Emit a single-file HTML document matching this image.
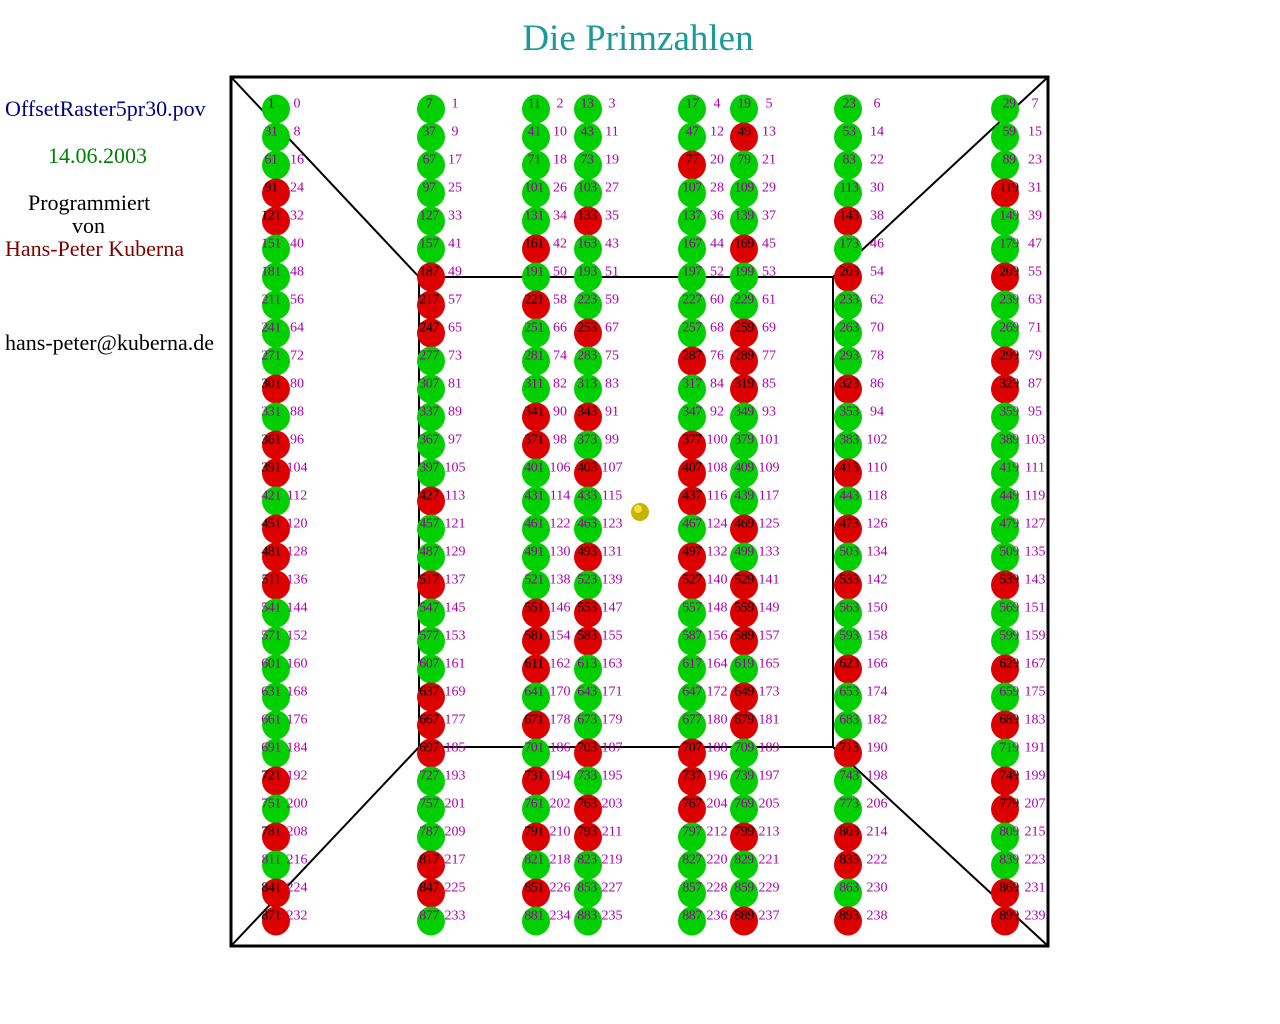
<!DOCTYPE html>
<html><head><meta charset="utf-8"><style>
body{margin:0;background:#fff;width:1280px;height:1024px;overflow:hidden}
svg{display:block}
text{font-family:"Liberation Serif",serif}
ellipse{rx:14px;ry:14.5px}
.g{fill:#00d000}.r{fill:#dd0000}
.n{font-size:14px;text-anchor:middle;dominant-baseline:central;fill:#990099;letter-spacing:-0.5px}
.k{font-size:14px;text-anchor:middle;dominant-baseline:central;fill:#000;letter-spacing:-0.5px}
.i{font-size:14px;text-anchor:middle;dominant-baseline:central;fill:#aa00aa}
</style></head><body>
<svg width="1280" height="1024" xmlns="http://www.w3.org/2000/svg">
<text x="638" y="50" font-size="37" fill="#1a9a9a" text-anchor="middle">Die Primzahlen</text>
<text x="5" y="116" font-size="22" fill="#000080">OffsetRaster5pr30.pov</text>
<text x="48" y="163" font-size="22" fill="#008000">14.06.2003</text>
<text x="28" y="210" font-size="22" fill="#000">Programmiert</text>
<text x="72" y="233" font-size="22" fill="#000">von</text>
<text x="5" y="256" font-size="22" fill="#800000">Hans-Peter Kuberna</text>
<text x="5" y="350" font-size="22" fill="#000">hans-peter@kuberna.de</text>
<g stroke="#000" fill="none">
<rect x="231" y="77" width="817" height="869" stroke-width="3"/>
<rect x="419" y="277" width="414" height="470" stroke-width="2"/>
<line x1="231" y1="77" x2="419" y2="277" stroke-width="2"/>
<line x1="1048" y1="77" x2="833" y2="277" stroke-width="2"/>
<line x1="231" y1="946" x2="419" y2="747" stroke-width="2"/>
<line x1="1048" y1="946" x2="833" y2="747" stroke-width="2"/>
</g>
<circle cx="640" cy="512" r="9" fill="#c8b400"/>
<circle cx="638" cy="509" r="4" fill="#f0e040"/>
<g id="grid">
<g transform="translate(0,104)">
<ellipse cx="276" cy="5" rx="13" ry="15" class="g"/><text x="271" class="k">1</text><text x="297" class="i">0</text>
<ellipse cx="431" cy="5" rx="13" ry="15" class="g"/><text x="429" class="n">7</text><text x="455" class="i">1</text>
<ellipse cx="536" cy="5" rx="13" ry="15" class="g"/><text x="534" class="n">11</text><text x="560" class="i">2</text>
<ellipse cx="588" cy="5" rx="13" ry="15" class="g"/><text x="587" class="n">13</text><text x="612" class="i">3</text>
<ellipse cx="692" cy="5" rx="13" ry="15" class="g"/><text x="692" class="n">17</text><text x="717" class="i">4</text>
<ellipse cx="744" cy="5" rx="13" ry="15" class="g"/><text x="744" class="n">19</text><text x="769" class="i">5</text>
<ellipse cx="848" cy="5" rx="13" ry="15" class="g"/><text x="849" class="n">23</text><text x="877" class="i">6</text>
<ellipse cx="1005" cy="5" rx="13" ry="15" class="g"/><text x="1009" class="n">29</text><text x="1035" class="i">7</text>
</g>
<g transform="translate(0,132)">
<ellipse cx="276" cy="5" rx="13" ry="15" class="g"/><text x="271" class="n">31</text><text x="297" class="i">8</text>
<ellipse cx="431" cy="5" rx="13" ry="15" class="g"/><text x="429" class="n">37</text><text x="455" class="i">9</text>
<ellipse cx="536" cy="5" rx="13" ry="15" class="g"/><text x="534" class="n">41</text><text x="560" class="i">10</text>
<ellipse cx="588" cy="5" rx="13" ry="15" class="g"/><text x="587" class="n">43</text><text x="612" class="i">11</text>
<ellipse cx="692" cy="5" rx="13" ry="15" class="g"/><text x="692" class="n">47</text><text x="717" class="i">12</text>
<ellipse cx="744" cy="5" rx="13" ry="15" class="r"/><text x="744" class="k">49</text><text x="769" class="i">13</text>
<ellipse cx="848" cy="5" rx="13" ry="15" class="g"/><text x="849" class="n">53</text><text x="877" class="i">14</text>
<ellipse cx="1005" cy="5" rx="13" ry="15" class="g"/><text x="1009" class="n">59</text><text x="1035" class="i">15</text>
</g>
<g transform="translate(0,160)">
<ellipse cx="276" cy="5" rx="13" ry="15" class="g"/><text x="271" class="n">61</text><text x="297" class="i">16</text>
<ellipse cx="431" cy="5" rx="13" ry="15" class="g"/><text x="429" class="n">67</text><text x="455" class="i">17</text>
<ellipse cx="536" cy="5" rx="13" ry="15" class="g"/><text x="534" class="n">71</text><text x="560" class="i">18</text>
<ellipse cx="588" cy="5" rx="13" ry="15" class="g"/><text x="587" class="n">73</text><text x="612" class="i">19</text>
<ellipse cx="692" cy="5" rx="13" ry="15" class="r"/><text x="692" class="k">77</text><text x="717" class="i">20</text>
<ellipse cx="744" cy="5" rx="13" ry="15" class="g"/><text x="744" class="n">79</text><text x="769" class="i">21</text>
<ellipse cx="848" cy="5" rx="13" ry="15" class="g"/><text x="849" class="n">83</text><text x="877" class="i">22</text>
<ellipse cx="1005" cy="5" rx="13" ry="15" class="g"/><text x="1009" class="n">89</text><text x="1035" class="i">23</text>
</g>
<g transform="translate(0,188)">
<ellipse cx="276" cy="5" rx="13" ry="15" class="r"/><text x="271" class="k">91</text><text x="297" class="i">24</text>
<ellipse cx="431" cy="5" rx="13" ry="15" class="g"/><text x="429" class="n">97</text><text x="455" class="i">25</text>
<ellipse cx="536" cy="5" rx="13" ry="15" class="g"/><text x="534" class="n">101</text><text x="560" class="i">26</text>
<ellipse cx="588" cy="5" rx="13" ry="15" class="g"/><text x="587" class="n">103</text><text x="612" class="i">27</text>
<ellipse cx="692" cy="5" rx="13" ry="15" class="g"/><text x="692" class="n">107</text><text x="717" class="i">28</text>
<ellipse cx="744" cy="5" rx="13" ry="15" class="g"/><text x="744" class="n">109</text><text x="769" class="i">29</text>
<ellipse cx="848" cy="5" rx="13" ry="15" class="g"/><text x="849" class="n">113</text><text x="877" class="i">30</text>
<ellipse cx="1005" cy="5" rx="13" ry="15" class="r"/><text x="1009" class="k">119</text><text x="1035" class="i">31</text>
</g>
<g transform="translate(0,216)">
<ellipse cx="276" cy="5" rx="13" ry="15" class="r"/><text x="271" class="k">121</text><text x="297" class="i">32</text>
<ellipse cx="431" cy="5" rx="13" ry="15" class="g"/><text x="429" class="n">127</text><text x="455" class="i">33</text>
<ellipse cx="536" cy="5" rx="13" ry="15" class="g"/><text x="534" class="n">131</text><text x="560" class="i">34</text>
<ellipse cx="588" cy="5" rx="13" ry="15" class="r"/><text x="587" class="k">133</text><text x="612" class="i">35</text>
<ellipse cx="692" cy="5" rx="13" ry="15" class="g"/><text x="692" class="n">137</text><text x="717" class="i">36</text>
<ellipse cx="744" cy="5" rx="13" ry="15" class="g"/><text x="744" class="n">139</text><text x="769" class="i">37</text>
<ellipse cx="848" cy="5" rx="13" ry="15" class="r"/><text x="849" class="k">143</text><text x="877" class="i">38</text>
<ellipse cx="1005" cy="5" rx="13" ry="15" class="g"/><text x="1009" class="n">149</text><text x="1035" class="i">39</text>
</g>
<g transform="translate(0,244)">
<ellipse cx="276" cy="5" rx="13" ry="15" class="g"/><text x="271" class="n">151</text><text x="297" class="i">40</text>
<ellipse cx="431" cy="5" rx="13" ry="15" class="g"/><text x="429" class="n">157</text><text x="455" class="i">41</text>
<ellipse cx="536" cy="5" rx="13" ry="15" class="r"/><text x="534" class="k">161</text><text x="560" class="i">42</text>
<ellipse cx="588" cy="5" rx="13" ry="15" class="g"/><text x="587" class="n">163</text><text x="612" class="i">43</text>
<ellipse cx="692" cy="5" rx="13" ry="15" class="g"/><text x="692" class="n">167</text><text x="717" class="i">44</text>
<ellipse cx="744" cy="5" rx="13" ry="15" class="r"/><text x="744" class="k">169</text><text x="769" class="i">45</text>
<ellipse cx="848" cy="5" rx="13" ry="15" class="g"/><text x="849" class="n">173</text><text x="877" class="i">46</text>
<ellipse cx="1005" cy="5" rx="13" ry="15" class="g"/><text x="1009" class="n">179</text><text x="1035" class="i">47</text>
</g>
<g transform="translate(0,272)">
<ellipse cx="276" cy="5" rx="13" ry="15" class="g"/><text x="271" class="n">181</text><text x="297" class="i">48</text>
<ellipse cx="431" cy="5" rx="13" ry="15" class="r"/><text x="429" class="k">187</text><text x="455" class="i">49</text>
<ellipse cx="536" cy="5" rx="13" ry="15" class="g"/><text x="534" class="n">191</text><text x="560" class="i">50</text>
<ellipse cx="588" cy="5" rx="13" ry="15" class="g"/><text x="587" class="n">193</text><text x="612" class="i">51</text>
<ellipse cx="692" cy="5" rx="13" ry="15" class="g"/><text x="692" class="n">197</text><text x="717" class="i">52</text>
<ellipse cx="744" cy="5" rx="13" ry="15" class="g"/><text x="744" class="n">199</text><text x="769" class="i">53</text>
<ellipse cx="848" cy="5" rx="13" ry="15" class="r"/><text x="849" class="k">203</text><text x="877" class="i">54</text>
<ellipse cx="1005" cy="5" rx="13" ry="15" class="r"/><text x="1009" class="k">209</text><text x="1035" class="i">55</text>
</g>
<g transform="translate(0,300)">
<ellipse cx="276" cy="5" rx="13" ry="15" class="g"/><text x="271" class="n">211</text><text x="297" class="i">56</text>
<ellipse cx="431" cy="5" rx="13" ry="15" class="r"/><text x="429" class="k">217</text><text x="455" class="i">57</text>
<ellipse cx="536" cy="5" rx="13" ry="15" class="r"/><text x="534" class="k">221</text><text x="560" class="i">58</text>
<ellipse cx="588" cy="5" rx="13" ry="15" class="g"/><text x="587" class="n">223</text><text x="612" class="i">59</text>
<ellipse cx="692" cy="5" rx="13" ry="15" class="g"/><text x="692" class="n">227</text><text x="717" class="i">60</text>
<ellipse cx="744" cy="5" rx="13" ry="15" class="g"/><text x="744" class="n">229</text><text x="769" class="i">61</text>
<ellipse cx="848" cy="5" rx="13" ry="15" class="g"/><text x="849" class="n">233</text><text x="877" class="i">62</text>
<ellipse cx="1005" cy="5" rx="13" ry="15" class="g"/><text x="1009" class="n">239</text><text x="1035" class="i">63</text>
</g>
<g transform="translate(0,328)">
<ellipse cx="276" cy="5" rx="13" ry="15" class="g"/><text x="271" class="n">241</text><text x="297" class="i">64</text>
<ellipse cx="431" cy="5" rx="13" ry="15" class="r"/><text x="429" class="k">247</text><text x="455" class="i">65</text>
<ellipse cx="536" cy="5" rx="13" ry="15" class="g"/><text x="534" class="n">251</text><text x="560" class="i">66</text>
<ellipse cx="588" cy="5" rx="13" ry="15" class="r"/><text x="587" class="k">253</text><text x="612" class="i">67</text>
<ellipse cx="692" cy="5" rx="13" ry="15" class="g"/><text x="692" class="n">257</text><text x="717" class="i">68</text>
<ellipse cx="744" cy="5" rx="13" ry="15" class="r"/><text x="744" class="k">259</text><text x="769" class="i">69</text>
<ellipse cx="848" cy="5" rx="13" ry="15" class="g"/><text x="849" class="n">263</text><text x="877" class="i">70</text>
<ellipse cx="1005" cy="5" rx="13" ry="15" class="g"/><text x="1009" class="n">269</text><text x="1035" class="i">71</text>
</g>
<g transform="translate(0,356)">
<ellipse cx="276" cy="5" rx="13" ry="15" class="g"/><text x="271" class="n">271</text><text x="297" class="i">72</text>
<ellipse cx="431" cy="5" rx="13" ry="15" class="g"/><text x="429" class="n">277</text><text x="455" class="i">73</text>
<ellipse cx="536" cy="5" rx="13" ry="15" class="g"/><text x="534" class="n">281</text><text x="560" class="i">74</text>
<ellipse cx="588" cy="5" rx="13" ry="15" class="g"/><text x="587" class="n">283</text><text x="612" class="i">75</text>
<ellipse cx="692" cy="5" rx="13" ry="15" class="r"/><text x="692" class="k">287</text><text x="717" class="i">76</text>
<ellipse cx="744" cy="5" rx="13" ry="15" class="r"/><text x="744" class="k">289</text><text x="769" class="i">77</text>
<ellipse cx="848" cy="5" rx="13" ry="15" class="g"/><text x="849" class="n">293</text><text x="877" class="i">78</text>
<ellipse cx="1005" cy="5" rx="13" ry="15" class="r"/><text x="1009" class="k">299</text><text x="1035" class="i">79</text>
</g>
<g transform="translate(0,384)">
<ellipse cx="276" cy="5" rx="13" ry="15" class="r"/><text x="271" class="k">301</text><text x="297" class="i">80</text>
<ellipse cx="431" cy="5" rx="13" ry="15" class="g"/><text x="429" class="n">307</text><text x="455" class="i">81</text>
<ellipse cx="536" cy="5" rx="13" ry="15" class="g"/><text x="534" class="n">311</text><text x="560" class="i">82</text>
<ellipse cx="588" cy="5" rx="13" ry="15" class="g"/><text x="587" class="n">313</text><text x="612" class="i">83</text>
<ellipse cx="692" cy="5" rx="13" ry="15" class="g"/><text x="692" class="n">317</text><text x="717" class="i">84</text>
<ellipse cx="744" cy="5" rx="13" ry="15" class="r"/><text x="744" class="k">319</text><text x="769" class="i">85</text>
<ellipse cx="848" cy="5" rx="13" ry="15" class="r"/><text x="849" class="k">323</text><text x="877" class="i">86</text>
<ellipse cx="1005" cy="5" rx="13" ry="15" class="r"/><text x="1009" class="k">329</text><text x="1035" class="i">87</text>
</g>
<g transform="translate(0,412)">
<ellipse cx="276" cy="5" rx="13" ry="15" class="g"/><text x="271" class="n">331</text><text x="297" class="i">88</text>
<ellipse cx="431" cy="5" rx="13" ry="15" class="g"/><text x="429" class="n">337</text><text x="455" class="i">89</text>
<ellipse cx="536" cy="5" rx="13" ry="15" class="r"/><text x="534" class="k">341</text><text x="560" class="i">90</text>
<ellipse cx="588" cy="5" rx="13" ry="15" class="r"/><text x="587" class="k">343</text><text x="612" class="i">91</text>
<ellipse cx="692" cy="5" rx="13" ry="15" class="g"/><text x="692" class="n">347</text><text x="717" class="i">92</text>
<ellipse cx="744" cy="5" rx="13" ry="15" class="g"/><text x="744" class="n">349</text><text x="769" class="i">93</text>
<ellipse cx="848" cy="5" rx="13" ry="15" class="g"/><text x="849" class="n">353</text><text x="877" class="i">94</text>
<ellipse cx="1005" cy="5" rx="13" ry="15" class="g"/><text x="1009" class="n">359</text><text x="1035" class="i">95</text>
</g>
<g transform="translate(0,440)">
<ellipse cx="276" cy="5" rx="13" ry="15" class="r"/><text x="271" class="k">361</text><text x="297" class="i">96</text>
<ellipse cx="431" cy="5" rx="13" ry="15" class="g"/><text x="429" class="n">367</text><text x="455" class="i">97</text>
<ellipse cx="536" cy="5" rx="13" ry="15" class="r"/><text x="534" class="k">371</text><text x="560" class="i">98</text>
<ellipse cx="588" cy="5" rx="13" ry="15" class="g"/><text x="587" class="n">373</text><text x="612" class="i">99</text>
<ellipse cx="692" cy="5" rx="13" ry="15" class="r"/><text x="692" class="k">377</text><text x="717" class="i">100</text>
<ellipse cx="744" cy="5" rx="13" ry="15" class="g"/><text x="744" class="n">379</text><text x="769" class="i">101</text>
<ellipse cx="848" cy="5" rx="13" ry="15" class="g"/><text x="849" class="n">383</text><text x="877" class="i">102</text>
<ellipse cx="1005" cy="5" rx="13" ry="15" class="g"/><text x="1009" class="n">389</text><text x="1035" class="i">103</text>
</g>
<g transform="translate(0,468)">
<ellipse cx="276" cy="5" rx="13" ry="15" class="r"/><text x="271" class="k">391</text><text x="297" class="i">104</text>
<ellipse cx="431" cy="5" rx="13" ry="15" class="g"/><text x="429" class="n">397</text><text x="455" class="i">105</text>
<ellipse cx="536" cy="5" rx="13" ry="15" class="g"/><text x="534" class="n">401</text><text x="560" class="i">106</text>
<ellipse cx="588" cy="5" rx="13" ry="15" class="r"/><text x="587" class="k">403</text><text x="612" class="i">107</text>
<ellipse cx="692" cy="5" rx="13" ry="15" class="r"/><text x="692" class="k">407</text><text x="717" class="i">108</text>
<ellipse cx="744" cy="5" rx="13" ry="15" class="g"/><text x="744" class="n">409</text><text x="769" class="i">109</text>
<ellipse cx="848" cy="5" rx="13" ry="15" class="r"/><text x="849" class="k">413</text><text x="877" class="i">110</text>
<ellipse cx="1005" cy="5" rx="13" ry="15" class="g"/><text x="1009" class="n">419</text><text x="1035" class="i">111</text>
</g>
<g transform="translate(0,496)">
<ellipse cx="276" cy="5" rx="13" ry="15" class="g"/><text x="271" class="n">421</text><text x="297" class="i">112</text>
<ellipse cx="431" cy="5" rx="13" ry="15" class="r"/><text x="429" class="k">427</text><text x="455" class="i">113</text>
<ellipse cx="536" cy="5" rx="13" ry="15" class="g"/><text x="534" class="n">431</text><text x="560" class="i">114</text>
<ellipse cx="588" cy="5" rx="13" ry="15" class="g"/><text x="587" class="n">433</text><text x="612" class="i">115</text>
<ellipse cx="692" cy="5" rx="13" ry="15" class="r"/><text x="692" class="k">437</text><text x="717" class="i">116</text>
<ellipse cx="744" cy="5" rx="13" ry="15" class="g"/><text x="744" class="n">439</text><text x="769" class="i">117</text>
<ellipse cx="848" cy="5" rx="13" ry="15" class="g"/><text x="849" class="n">443</text><text x="877" class="i">118</text>
<ellipse cx="1005" cy="5" rx="13" ry="15" class="g"/><text x="1009" class="n">449</text><text x="1035" class="i">119</text>
</g>
<g transform="translate(0,524)">
<ellipse cx="276" cy="5" rx="13" ry="15" class="r"/><text x="271" class="k">451</text><text x="297" class="i">120</text>
<ellipse cx="431" cy="5" rx="13" ry="15" class="g"/><text x="429" class="n">457</text><text x="455" class="i">121</text>
<ellipse cx="536" cy="5" rx="13" ry="15" class="g"/><text x="534" class="n">461</text><text x="560" class="i">122</text>
<ellipse cx="588" cy="5" rx="13" ry="15" class="g"/><text x="587" class="n">463</text><text x="612" class="i">123</text>
<ellipse cx="692" cy="5" rx="13" ry="15" class="g"/><text x="692" class="n">467</text><text x="717" class="i">124</text>
<ellipse cx="744" cy="5" rx="13" ry="15" class="r"/><text x="744" class="k">469</text><text x="769" class="i">125</text>
<ellipse cx="848" cy="5" rx="13" ry="15" class="r"/><text x="849" class="k">473</text><text x="877" class="i">126</text>
<ellipse cx="1005" cy="5" rx="13" ry="15" class="g"/><text x="1009" class="n">479</text><text x="1035" class="i">127</text>
</g>
<g transform="translate(0,552)">
<ellipse cx="276" cy="5" rx="13" ry="15" class="r"/><text x="271" class="k">481</text><text x="297" class="i">128</text>
<ellipse cx="431" cy="5" rx="13" ry="15" class="g"/><text x="429" class="n">487</text><text x="455" class="i">129</text>
<ellipse cx="536" cy="5" rx="13" ry="15" class="g"/><text x="534" class="n">491</text><text x="560" class="i">130</text>
<ellipse cx="588" cy="5" rx="13" ry="15" class="r"/><text x="587" class="k">493</text><text x="612" class="i">131</text>
<ellipse cx="692" cy="5" rx="13" ry="15" class="r"/><text x="692" class="k">497</text><text x="717" class="i">132</text>
<ellipse cx="744" cy="5" rx="13" ry="15" class="g"/><text x="744" class="n">499</text><text x="769" class="i">133</text>
<ellipse cx="848" cy="5" rx="13" ry="15" class="g"/><text x="849" class="n">503</text><text x="877" class="i">134</text>
<ellipse cx="1005" cy="5" rx="13" ry="15" class="g"/><text x="1009" class="n">509</text><text x="1035" class="i">135</text>
</g>
<g transform="translate(0,580)">
<ellipse cx="276" cy="5" rx="13" ry="15" class="r"/><text x="271" class="k">511</text><text x="297" class="i">136</text>
<ellipse cx="431" cy="5" rx="13" ry="15" class="r"/><text x="429" class="k">517</text><text x="455" class="i">137</text>
<ellipse cx="536" cy="5" rx="13" ry="15" class="g"/><text x="534" class="n">521</text><text x="560" class="i">138</text>
<ellipse cx="588" cy="5" rx="13" ry="15" class="g"/><text x="587" class="n">523</text><text x="612" class="i">139</text>
<ellipse cx="692" cy="5" rx="13" ry="15" class="r"/><text x="692" class="k">527</text><text x="717" class="i">140</text>
<ellipse cx="744" cy="5" rx="13" ry="15" class="r"/><text x="744" class="k">529</text><text x="769" class="i">141</text>
<ellipse cx="848" cy="5" rx="13" ry="15" class="r"/><text x="849" class="k">533</text><text x="877" class="i">142</text>
<ellipse cx="1005" cy="5" rx="13" ry="15" class="r"/><text x="1009" class="k">539</text><text x="1035" class="i">143</text>
</g>
<g transform="translate(0,608)">
<ellipse cx="276" cy="5" rx="13" ry="15" class="g"/><text x="271" class="n">541</text><text x="297" class="i">144</text>
<ellipse cx="431" cy="5" rx="13" ry="15" class="g"/><text x="429" class="n">547</text><text x="455" class="i">145</text>
<ellipse cx="536" cy="5" rx="13" ry="15" class="r"/><text x="534" class="k">551</text><text x="560" class="i">146</text>
<ellipse cx="588" cy="5" rx="13" ry="15" class="r"/><text x="587" class="k">553</text><text x="612" class="i">147</text>
<ellipse cx="692" cy="5" rx="13" ry="15" class="g"/><text x="692" class="n">557</text><text x="717" class="i">148</text>
<ellipse cx="744" cy="5" rx="13" ry="15" class="r"/><text x="744" class="k">559</text><text x="769" class="i">149</text>
<ellipse cx="848" cy="5" rx="13" ry="15" class="g"/><text x="849" class="n">563</text><text x="877" class="i">150</text>
<ellipse cx="1005" cy="5" rx="13" ry="15" class="g"/><text x="1009" class="n">569</text><text x="1035" class="i">151</text>
</g>
<g transform="translate(0,636)">
<ellipse cx="276" cy="5" rx="13" ry="15" class="g"/><text x="271" class="n">571</text><text x="297" class="i">152</text>
<ellipse cx="431" cy="5" rx="13" ry="15" class="g"/><text x="429" class="n">577</text><text x="455" class="i">153</text>
<ellipse cx="536" cy="5" rx="13" ry="15" class="r"/><text x="534" class="k">581</text><text x="560" class="i">154</text>
<ellipse cx="588" cy="5" rx="13" ry="15" class="r"/><text x="587" class="k">583</text><text x="612" class="i">155</text>
<ellipse cx="692" cy="5" rx="13" ry="15" class="g"/><text x="692" class="n">587</text><text x="717" class="i">156</text>
<ellipse cx="744" cy="5" rx="13" ry="15" class="r"/><text x="744" class="k">589</text><text x="769" class="i">157</text>
<ellipse cx="848" cy="5" rx="13" ry="15" class="g"/><text x="849" class="n">593</text><text x="877" class="i">158</text>
<ellipse cx="1005" cy="5" rx="13" ry="15" class="g"/><text x="1009" class="n">599</text><text x="1035" class="i">159</text>
</g>
<g transform="translate(0,664)">
<ellipse cx="276" cy="5" rx="13" ry="15" class="g"/><text x="271" class="n">601</text><text x="297" class="i">160</text>
<ellipse cx="431" cy="5" rx="13" ry="15" class="g"/><text x="429" class="n">607</text><text x="455" class="i">161</text>
<ellipse cx="536" cy="5" rx="13" ry="15" class="r"/><text x="534" class="k">611</text><text x="560" class="i">162</text>
<ellipse cx="588" cy="5" rx="13" ry="15" class="g"/><text x="587" class="n">613</text><text x="612" class="i">163</text>
<ellipse cx="692" cy="5" rx="13" ry="15" class="g"/><text x="692" class="n">617</text><text x="717" class="i">164</text>
<ellipse cx="744" cy="5" rx="13" ry="15" class="g"/><text x="744" class="n">619</text><text x="769" class="i">165</text>
<ellipse cx="848" cy="5" rx="13" ry="15" class="r"/><text x="849" class="k">623</text><text x="877" class="i">166</text>
<ellipse cx="1005" cy="5" rx="13" ry="15" class="r"/><text x="1009" class="k">629</text><text x="1035" class="i">167</text>
</g>
<g transform="translate(0,692)">
<ellipse cx="276" cy="5" rx="13" ry="15" class="g"/><text x="271" class="n">631</text><text x="297" class="i">168</text>
<ellipse cx="431" cy="5" rx="13" ry="15" class="r"/><text x="429" class="k">637</text><text x="455" class="i">169</text>
<ellipse cx="536" cy="5" rx="13" ry="15" class="g"/><text x="534" class="n">641</text><text x="560" class="i">170</text>
<ellipse cx="588" cy="5" rx="13" ry="15" class="g"/><text x="587" class="n">643</text><text x="612" class="i">171</text>
<ellipse cx="692" cy="5" rx="13" ry="15" class="g"/><text x="692" class="n">647</text><text x="717" class="i">172</text>
<ellipse cx="744" cy="5" rx="13" ry="15" class="r"/><text x="744" class="k">649</text><text x="769" class="i">173</text>
<ellipse cx="848" cy="5" rx="13" ry="15" class="g"/><text x="849" class="n">653</text><text x="877" class="i">174</text>
<ellipse cx="1005" cy="5" rx="13" ry="15" class="g"/><text x="1009" class="n">659</text><text x="1035" class="i">175</text>
</g>
<g transform="translate(0,720)">
<ellipse cx="276" cy="5" rx="13" ry="15" class="g"/><text x="271" class="n">661</text><text x="297" class="i">176</text>
<ellipse cx="431" cy="5" rx="13" ry="15" class="r"/><text x="429" class="k">667</text><text x="455" class="i">177</text>
<ellipse cx="536" cy="5" rx="13" ry="15" class="r"/><text x="534" class="k">671</text><text x="560" class="i">178</text>
<ellipse cx="588" cy="5" rx="13" ry="15" class="g"/><text x="587" class="n">673</text><text x="612" class="i">179</text>
<ellipse cx="692" cy="5" rx="13" ry="15" class="g"/><text x="692" class="n">677</text><text x="717" class="i">180</text>
<ellipse cx="744" cy="5" rx="13" ry="15" class="r"/><text x="744" class="k">679</text><text x="769" class="i">181</text>
<ellipse cx="848" cy="5" rx="13" ry="15" class="g"/><text x="849" class="n">683</text><text x="877" class="i">182</text>
<ellipse cx="1005" cy="5" rx="13" ry="15" class="r"/><text x="1009" class="k">689</text><text x="1035" class="i">183</text>
</g>
<g transform="translate(0,748)">
<ellipse cx="276" cy="5" rx="13" ry="15" class="g"/><text x="271" class="n">691</text><text x="297" class="i">184</text>
<ellipse cx="431" cy="5" rx="13" ry="15" class="r"/><text x="429" class="k">697</text><text x="455" class="i">185</text>
<ellipse cx="536" cy="5" rx="13" ry="15" class="g"/><text x="534" class="n">701</text><text x="560" class="i">186</text>
<ellipse cx="588" cy="5" rx="13" ry="15" class="r"/><text x="587" class="k">703</text><text x="612" class="i">187</text>
<ellipse cx="692" cy="5" rx="13" ry="15" class="r"/><text x="692" class="k">707</text><text x="717" class="i">188</text>
<ellipse cx="744" cy="5" rx="13" ry="15" class="g"/><text x="744" class="n">709</text><text x="769" class="i">189</text>
<ellipse cx="848" cy="5" rx="13" ry="15" class="r"/><text x="849" class="k">713</text><text x="877" class="i">190</text>
<ellipse cx="1005" cy="5" rx="13" ry="15" class="g"/><text x="1009" class="n">719</text><text x="1035" class="i">191</text>
</g>
<g transform="translate(0,776)">
<ellipse cx="276" cy="5" rx="13" ry="15" class="r"/><text x="271" class="k">721</text><text x="297" class="i">192</text>
<ellipse cx="431" cy="5" rx="13" ry="15" class="g"/><text x="429" class="n">727</text><text x="455" class="i">193</text>
<ellipse cx="536" cy="5" rx="13" ry="15" class="r"/><text x="534" class="k">731</text><text x="560" class="i">194</text>
<ellipse cx="588" cy="5" rx="13" ry="15" class="g"/><text x="587" class="n">733</text><text x="612" class="i">195</text>
<ellipse cx="692" cy="5" rx="13" ry="15" class="r"/><text x="692" class="k">737</text><text x="717" class="i">196</text>
<ellipse cx="744" cy="5" rx="13" ry="15" class="g"/><text x="744" class="n">739</text><text x="769" class="i">197</text>
<ellipse cx="848" cy="5" rx="13" ry="15" class="g"/><text x="849" class="n">743</text><text x="877" class="i">198</text>
<ellipse cx="1005" cy="5" rx="13" ry="15" class="r"/><text x="1009" class="k">749</text><text x="1035" class="i">199</text>
</g>
<g transform="translate(0,804)">
<ellipse cx="276" cy="5" rx="13" ry="15" class="g"/><text x="271" class="n">751</text><text x="297" class="i">200</text>
<ellipse cx="431" cy="5" rx="13" ry="15" class="g"/><text x="429" class="n">757</text><text x="455" class="i">201</text>
<ellipse cx="536" cy="5" rx="13" ry="15" class="g"/><text x="534" class="n">761</text><text x="560" class="i">202</text>
<ellipse cx="588" cy="5" rx="13" ry="15" class="r"/><text x="587" class="k">763</text><text x="612" class="i">203</text>
<ellipse cx="692" cy="5" rx="13" ry="15" class="r"/><text x="692" class="k">767</text><text x="717" class="i">204</text>
<ellipse cx="744" cy="5" rx="13" ry="15" class="g"/><text x="744" class="n">769</text><text x="769" class="i">205</text>
<ellipse cx="848" cy="5" rx="13" ry="15" class="g"/><text x="849" class="n">773</text><text x="877" class="i">206</text>
<ellipse cx="1005" cy="5" rx="13" ry="15" class="r"/><text x="1009" class="k">779</text><text x="1035" class="i">207</text>
</g>
<g transform="translate(0,832)">
<ellipse cx="276" cy="5" rx="13" ry="15" class="r"/><text x="271" class="k">781</text><text x="297" class="i">208</text>
<ellipse cx="431" cy="5" rx="13" ry="15" class="g"/><text x="429" class="n">787</text><text x="455" class="i">209</text>
<ellipse cx="536" cy="5" rx="13" ry="15" class="r"/><text x="534" class="k">791</text><text x="560" class="i">210</text>
<ellipse cx="588" cy="5" rx="13" ry="15" class="r"/><text x="587" class="k">793</text><text x="612" class="i">211</text>
<ellipse cx="692" cy="5" rx="13" ry="15" class="g"/><text x="692" class="n">797</text><text x="717" class="i">212</text>
<ellipse cx="744" cy="5" rx="13" ry="15" class="r"/><text x="744" class="k">799</text><text x="769" class="i">213</text>
<ellipse cx="848" cy="5" rx="13" ry="15" class="r"/><text x="849" class="k">803</text><text x="877" class="i">214</text>
<ellipse cx="1005" cy="5" rx="13" ry="15" class="g"/><text x="1009" class="n">809</text><text x="1035" class="i">215</text>
</g>
<g transform="translate(0,860)">
<ellipse cx="276" cy="5" rx="13" ry="15" class="g"/><text x="271" class="n">811</text><text x="297" class="i">216</text>
<ellipse cx="431" cy="5" rx="13" ry="15" class="r"/><text x="429" class="k">817</text><text x="455" class="i">217</text>
<ellipse cx="536" cy="5" rx="13" ry="15" class="g"/><text x="534" class="n">821</text><text x="560" class="i">218</text>
<ellipse cx="588" cy="5" rx="13" ry="15" class="g"/><text x="587" class="n">823</text><text x="612" class="i">219</text>
<ellipse cx="692" cy="5" rx="13" ry="15" class="g"/><text x="692" class="n">827</text><text x="717" class="i">220</text>
<ellipse cx="744" cy="5" rx="13" ry="15" class="g"/><text x="744" class="n">829</text><text x="769" class="i">221</text>
<ellipse cx="848" cy="5" rx="13" ry="15" class="r"/><text x="849" class="k">833</text><text x="877" class="i">222</text>
<ellipse cx="1005" cy="5" rx="13" ry="15" class="g"/><text x="1009" class="n">839</text><text x="1035" class="i">223</text>
</g>
<g transform="translate(0,888)">
<ellipse cx="276" cy="5" rx="13" ry="15" class="r"/><text x="271" class="k">841</text><text x="297" class="i">224</text>
<ellipse cx="431" cy="5" rx="13" ry="15" class="r"/><text x="429" class="k">847</text><text x="455" class="i">225</text>
<ellipse cx="536" cy="5" rx="13" ry="15" class="r"/><text x="534" class="k">851</text><text x="560" class="i">226</text>
<ellipse cx="588" cy="5" rx="13" ry="15" class="g"/><text x="587" class="n">853</text><text x="612" class="i">227</text>
<ellipse cx="692" cy="5" rx="13" ry="15" class="g"/><text x="692" class="n">857</text><text x="717" class="i">228</text>
<ellipse cx="744" cy="5" rx="13" ry="15" class="g"/><text x="744" class="n">859</text><text x="769" class="i">229</text>
<ellipse cx="848" cy="5" rx="13" ry="15" class="g"/><text x="849" class="n">863</text><text x="877" class="i">230</text>
<ellipse cx="1005" cy="5" rx="13" ry="15" class="r"/><text x="1009" class="k">869</text><text x="1035" class="i">231</text>
</g>
<g transform="translate(0,916)">
<ellipse cx="276" cy="5" rx="13" ry="15" class="r"/><text x="271" class="k">871</text><text x="297" class="i">232</text>
<ellipse cx="431" cy="5" rx="13" ry="15" class="g"/><text x="429" class="n">877</text><text x="455" class="i">233</text>
<ellipse cx="536" cy="5" rx="13" ry="15" class="g"/><text x="534" class="n">881</text><text x="560" class="i">234</text>
<ellipse cx="588" cy="5" rx="13" ry="15" class="g"/><text x="587" class="n">883</text><text x="612" class="i">235</text>
<ellipse cx="692" cy="5" rx="13" ry="15" class="g"/><text x="692" class="n">887</text><text x="717" class="i">236</text>
<ellipse cx="744" cy="5" rx="13" ry="15" class="r"/><text x="744" class="k">889</text><text x="769" class="i">237</text>
<ellipse cx="848" cy="5" rx="13" ry="15" class="r"/><text x="849" class="k">893</text><text x="877" class="i">238</text>
<ellipse cx="1005" cy="5" rx="13" ry="15" class="r"/><text x="1009" class="k">899</text><text x="1035" class="i">239</text>
</g>
</g>
</svg>
</body></html>
